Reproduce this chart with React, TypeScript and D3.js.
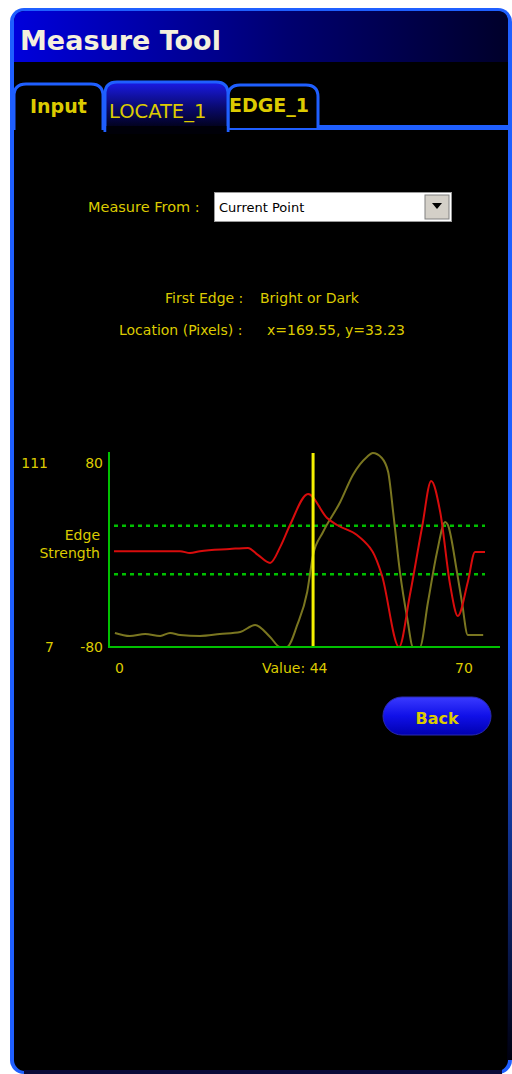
import React from "react";
import * as d3 from "d3";

// ---- data (x = sample index, y = edge strength in [-80, 80]) ----
const redX = [0, 8, 14.6, 16.8, 19, 25.6, 29.6, 31.8, 34.5, 36.8, 38.9, 42.9, 47.1, 49.3, 53.7, 56.6, 57.2, 59.2, 63, 65.4, 68.1, 70.1, 72.1, 74.3, 76, 78.2, 79.8, 82];
const redY = [-1, -1, -1, -2.5, -1, 0.8, 1.7, -4, -10.7, 3, 20.6, 46.2, 26.4, 20.6, 12.4, 1.7, -1.6, -20.6, -80, -37.1, 19, 56.9, 31.3, -28.9, -54.4, -26.4, -1.6, -1.6];

const oliveX = [0.2, 3.5, 6.9, 10.2, 12.4, 14.6, 19, 23.4, 27.9, 31.2, 34.5, 36.7, 38.2, 40.5, 42.7, 44, 46.2, 50, 52.8, 55.9, 57.2, 59.2, 60.6, 61.7, 63.2, 64.8, 66.1, 67.6, 69.4, 71.4, 73.2, 73.8, 75.8, 76.9, 78.2, 81.6];
const oliveY = [-68.4, -70.9, -69.3, -70.9, -68.4, -70.1, -70.9, -69.3, -67.6, -61.8, -71.7, -80, -80, -61.8, -34.6, -4.1, 14.8, 39.6, 61.9, 76.7, 80, 75.9, 64.3, 31.3, -18.1, -56.1, -80, -80, -42.9, -1.6, 23.1, 20.6, -18.1, -42.9, -70.1, -70.1];

const thresholds = [20, -20];
const cursorValue = 44;
const yDomain = [-80, 80];
const xDomain = [0, 82];
const rawLabels = ["111", "7"];
const xTickLabels = ["0", "70"];

const FONT = "'DejaVu Sans', Verdana, sans-serif";
const YEL = "#dccb00";
const BLUE = "#1f5fff";

export default function App() {
  const x = d3.scaleLinear().domain(xDomain).range([114, 485]);
  const y = d3.scaleLinear().domain(yDomain).range([647, 453]);
  const line = d3
    .line<[number, number]>()
    .x((d) => x(d[0]))
    .y((d) => y(Math.max(-80, Math.min(80, d[1]))))
    .curve(d3.curveMonotoneX);
  const redPath = line(redX.map((v, i) => [v, redY[i]]));
  const olivePath = line(oliveX.map((v, i) => [v, oliveY[i]]));

  return (
    <svg
      width={512}
      height={1074}
      style={{ position: "absolute", left: 0, top: 0, background: "#fff" }}
      fontFamily={FONT}
    >
      <defs>
        <linearGradient id="titleG" x1="0" x2="1" y1="0" y2="0">
          <stop offset="0" stopColor="#0000dc" />
          <stop offset="0.55" stopColor="#000070" />
          <stop offset="1" stopColor="#00002a" />
        </linearGradient>
        <linearGradient id="tabG" x1="0" x2="0" y1="0" y2="1">
          <stop offset="0" stopColor="#1a1ae6" />
          <stop offset="0.5" stopColor="#0a0a70" />
          <stop offset="1" stopColor="#000008" />
        </linearGradient>
        <linearGradient id="btnG" x1="0" x2="0" y1="0" y2="1">
          <stop offset="0" stopColor="#3a3aff" />
          <stop offset="0.5" stopColor="#1010e8" />
          <stop offset="1" stopColor="#0000b0" />
        </linearGradient>
        <linearGradient id="rightG" x1="0" x2="0" y1="0" y2="1">
          <stop offset="0" stopColor="#000010" stopOpacity={0} />
          <stop offset="0.55" stopColor="#000010" stopOpacity={0} />
          <stop offset="1" stopColor="#000010" stopOpacity={1} />
        </linearGradient>
        <clipPath id="plotClip">
          <rect x={110} y={451} width={392} height={197} />
        </clipPath>
      </defs>

      {/* frame */}
      <rect x={10} y={8} width={502} height={1066} rx={14} fill={BLUE} />
      <rect x={14} y={11} width={494} height={1060} rx={11} fill="#000" />
      <rect x={507} y={130} width={5} height={930} fill="url(#rightG)" />
      <rect x={24} y={1070} width={478} height={4} fill="#0a0a38" />
      <path d="M14,62 V22 Q14,11 25,11 H497 Q508,11 508,22 V62 Z" fill="url(#titleG)" />
      <text x={20} y={50} fill="#f4f0dc" fontSize={27} fontWeight="bold">
        Measure Tool
      </text>

      {/* tab strip */}
      <rect x={14} y={125} width={498} height={5} fill={BLUE} />
      <path d="M14,130 V96 Q14,84 26,84 H91 Q103,84 103,96 V130" fill="#000" stroke={BLUE} strokeWidth={3} />
      <path d="M228,128 V97 Q228,85 240,85 H306 Q318,85 318,97 V128" fill="#000" stroke={BLUE} strokeWidth={3} />
      <path d="M105,132 V94 Q105,82 117,82 H216 Q228,82 228,94 V132" fill="url(#tabG)" stroke={BLUE} strokeWidth={3} />
      <rect x={106.5} y={126} width={120} height={8} fill="#000008" />
      <text x={30} y={113} fill={YEL} fontSize={19} fontWeight="bold">Input</text>
      <text x={109} y={118} fill={YEL} fontSize={19.5}>LOCATE_1</text>
      <text x={229} y={112} fill={YEL} fontSize={19} fontWeight="bold">EDGE_1</text>

      {/* measure from */}
      <text x={88} y={212} fill={YEL} fontSize={14.5}>Measure From :</text>
      <rect x={214.5} y={192.5} width={237} height={29} fill="#fff" stroke="#9a9a9a" />
      <text x={219} y={212} fill="#000" fontSize={13}>Current Point</text>
      <rect x={425} y={195} width={24} height={24} fill="#d4d0c8" stroke="#808080" />
      <path d="M432,203 H442 L437,209 Z" fill="#000" />

      <text x={165} y={303} fill={YEL} fontSize={14}>First Edge :</text>
      <text x={260} y={303} fill={YEL} fontSize={14}>Bright or Dark</text>
      <text x={119} y={335} fill={YEL} fontSize={14}>Location (Pixels) :</text>
      <text x={267} y={335} fill={YEL} fontSize={14}>x=169.55, y=33.23</text>

      {/* chart */}
      <text x={48} y={y(80) + 15} fill={YEL} fontSize={14} textAnchor="end">{rawLabels[0]}</text>
      <text x={103} y={y(80) + 15} fill={YEL} fontSize={14} textAnchor="end">{yDomain[1]}</text>
      <text x={100} y={540} fill={YEL} fontSize={14} textAnchor="end">Edge</text>
      <text x={100} y={558} fill={YEL} fontSize={14} textAnchor="end">Strength</text>
      <text x={54} y={y(-80) + 5} fill={YEL} fontSize={14} textAnchor="end">{rawLabels[1]}</text>
      <text x={103} y={y(-80) + 5} fill={YEL} fontSize={14} textAnchor="end">{yDomain[0]}</text>

      {thresholds.map((t) => (
        <line key={t} x1={114} x2={485} y1={y(t)} y2={y(t)} stroke="#00c000" strokeWidth={2.5} strokeDasharray="4 4" />
      ))}

      <g clipPath="url(#plotClip)">
        <path d={olivePath || ""} fill="none" stroke="#7a7620" strokeWidth={2} />
        <path d={redPath || ""} fill="none" stroke="#d80c0c" strokeWidth={2} />
      </g>

      <line x1={x(cursorValue)} x2={x(cursorValue)} y1={y(80)} y2={y(-80)} stroke="#f4f000" strokeWidth={3} />

      <line x1={109} x2={109} y1={452} y2={648} stroke="#00c000" strokeWidth={2} />
      <line x1={108} x2={500} y1={647} y2={647} stroke="#00c000" strokeWidth={2} />

      <text x={115} y={673} fill={YEL} fontSize={14}>{xTickLabels[0]}</text>
      <text x={262} y={673} fill={YEL} fontSize={14}>Value:  {cursorValue}</text>
      <text x={455} y={673} fill={YEL} fontSize={14}>{xTickLabels[1]}</text>

      {/* back button */}
      <rect x={383} y={697} width={108} height={38} rx={19} fill="url(#btnG)" stroke="#2a2ab0" />
      <text x={437} y={724} fill={YEL} fontSize={16} fontWeight="bold" textAnchor="middle">Back</text>
    </svg>
  );
}
